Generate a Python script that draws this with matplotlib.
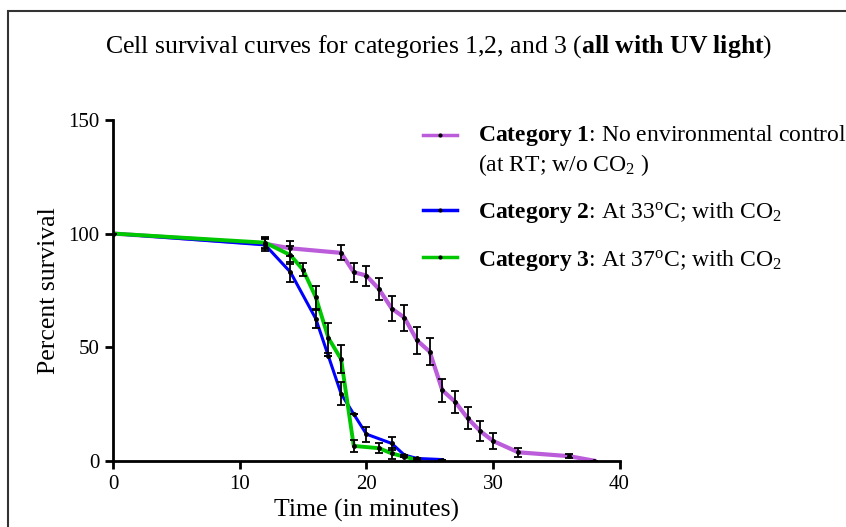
import matplotlib
matplotlib.use("Agg")
import matplotlib.pyplot as plt
from matplotlib.lines import Line2D
from matplotlib.patches import Rectangle
from matplotlib.legend_handler import HandlerLine2D
import numpy as np

plt.rcParams['font.family'] = ['Liberation Serif', 'DejaVu Serif']
plt.rcParams['mathtext.fontset'] = 'custom'
plt.rcParams['mathtext.rm'] = 'Liberation Serif'
plt.rcParams['mathtext.it'] = 'Liberation Serif:italic'
plt.rcParams['mathtext.bf'] = 'Liberation Serif:bold'

# ---- data ----
t1 = [0, 12, 14, 18, 19, 20, 21, 22, 23, 24, 25, 26, 27, 28, 29, 30, 32, 36, 38]
y1 = [100, 95.5, 93.5, 91.5, 83, 81.5, 75.5, 67, 63, 53, 48, 31, 26, 18.7, 13, 8.7, 3.7, 2, 0]
e1 = [0, 2.5, 3.3, 3.3, 4.2, 4.4, 4.9, 5.5, 5.7, 5.9, 5.9, 5.1, 4.8, 4.8, 4.4, 3.7, 2.0, 1.0, 0]

t2 = [0, 12, 14, 16, 17, 18, 19, 20, 22, 23, 24, 26]
y2 = [100, 95, 83, 62.5, 46, 29.5, 20.5, 11.7, 7.6, 2.5, 1, 0.5]
e2 = [0, 2.5, 4.4, 4.0, 0, 5.1, 0, 3.3, 3.0, 0, 0, 0]

t3 = [0, 12, 14, 15, 16, 17, 18, 19, 21, 22, 23, 24]
y3 = [100, 96, 90.5, 84, 72, 54, 44.7, 6.5, 5.5, 3.2, 1.8, 0.3]
e3 = [0, 2.5, 4.0, 2.9, 5.1, 6.6, 6.2, 2.6, 2.2, 2.5, 0, 0]

colors = ['#bb5cdb', '#0000ff', '#00c800']
labels = [
    r"$\mathbf{Category\ 1}$: No environmental control" + "\n" + r"(at RT; w/o CO$_2$ )",
    r"$\mathbf{Category\ 2}$: At 33$^{\rm o}$C; with CO$_2$",
    r"$\mathbf{Category\ 3}$: At 37$^{\rm o}$C; with CO$_2$",
]


class ShiftedLineHandler(HandlerLine2D):
    """Legend handler that can raise the sample line (for multi-line labels)."""
    def __init__(self, dy=0.0, **kw):
        super().__init__(**kw)
        self.dy = dy

    def create_artists(self, legend, orig_handle, xdescent, ydescent, width,
                       height, fontsize, trans):
        arts = super().create_artists(legend, orig_handle, xdescent, ydescent,
                                      width, height, fontsize, trans)
        for a in arts:
            a.set_ydata(np.asarray(a.get_ydata(), dtype=float) + self.dy)
        return arts


W, H = 846, 527
fig = plt.figure(figsize=(W/100, H/100), dpi=100)
ax = fig.add_axes([113.3/W, 1-460.7/H, (619.5-113.3)/W, (460.7-120)/H])

series = [(t1, y1, e1, 3.0), (t2, y2, e2, 2.2), (t3, y3, e3, 2.8)]
for (t, y, e, lw), c in zip(series, colors):
    ax.plot(t, y, color=c, lw=lw, zorder=2)
    ax.errorbar(t, y, yerr=e, fmt='o', ms=2.5, color='black', ecolor='black',
                elinewidth=1.3, capsize=3, capthick=1.3, zorder=3)

ax.set_xlim(0, 40)
ax.set_ylim(0, 150)
ax.set_xticks([0, 10, 20, 30, 40])
ax.set_yticks([0, 50, 100, 150])
for s in ['top', 'right']:
    ax.spines[s].set_visible(False)
for s in ['left', 'bottom']:
    ax.spines[s].set_linewidth(2)
ax.tick_params(width=2, length=6, labelsize=15, direction='out', colors='black', pad=4)
ax.set_xlabel('Time (in minutes)', fontsize=18.5, labelpad=4)
ax.set_ylabel('Percent survival', fontsize=18.5, labelpad=6)

handles = [Line2D([], [], color=c, lw=2.5, marker='o', ms=2, mfc='black', mec='black')
           for c in colors]
leg = ax.legend(handles, labels, loc='upper left', bbox_to_anchor=(423/W, 1-123/H),
                bbox_transform=fig.transFigure, frameon=False, fontsize=17,
                handlelength=1.45, handletextpad=0.9, labelspacing=0.95, numpoints=1,
                borderpad=0, borderaxespad=0,
                handler_map={handles[0]: ShiftedLineHandler(dy=11)})

fig.text(439/W, 1-47/H, r"Cell survival curves for categories 1,2, and 3 ($\mathbf{all\ with\ UV\ light}$)",
         ha='center', va='center', fontsize=18.5)

fig.add_artist(Rectangle((8.3/W, -0.1), 1.2, 1.1 - 11/H, transform=fig.transFigure,
                         fill=False, edgecolor='#333333', lw=1.5))

fig.savefig('out.png', dpi=100)
